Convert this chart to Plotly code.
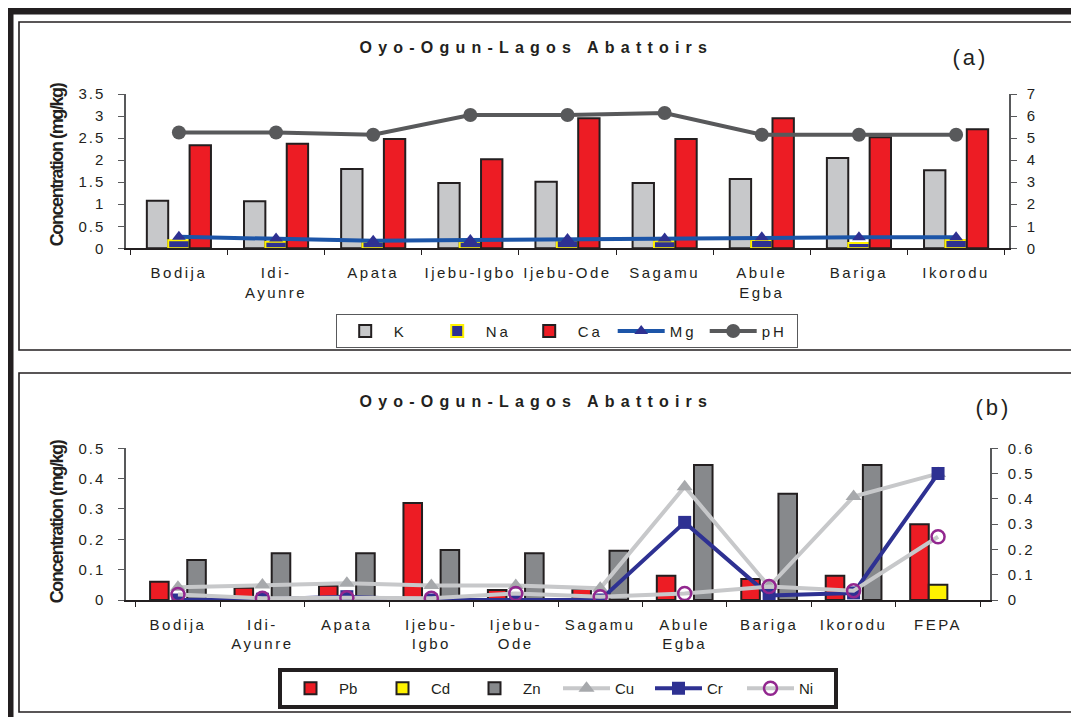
import plotly.graph_objects as go

# ---------------- data ----------------
sites_a = ["Bodija", "Idi-<br>Ayunre", "Apata", "Ijebu-Igbo", "Ijebu-Ode", "Sagamu",
           "Abule<br>Egba", "Bariga", "Ikorodu"]
K = [1.08, 1.07, 1.80, 1.48, 1.51, 1.48, 1.57, 2.05, 1.77]
Na = [0.18, 0.15, 0.15, 0.15, 0.18, 0.16, 0.19, 0.12, 0.19]
Ca = [2.34, 2.37, 2.48, 2.02, 2.95, 2.48, 2.95, 2.52, 2.70]
Mg = [0.26, 0.22, 0.17, 0.19, 0.21, 0.22, 0.25, 0.25, 0.25]
pH = [5.25, 5.25, 5.15, 6.05, 6.05, 6.14, 5.15, 5.15, 5.15]

sites_b = ["Bodija", "Idi-<br>Ayunre", "Apata", "Ijebu-<br>Igbo", "Ijebu-<br>Ode", "Sagamu",
           "Abule<br>Egba", "Bariga", "Ikorodu", "FEPA"]
Pb = [0.06, 0.04, 0.047, 0.32, 0.033, 0.036, 0.08, 0.069, 0.08, 0.25]
Cd = [None, None, None, None, None, None, None, None, None, 0.05]
Zn = [0.132, 0.154, 0.154, 0.165, 0.154, 0.162, 0.445, 0.35, 0.445, None]
Cu = [0.05, 0.059, 0.066, 0.057, 0.057, 0.046, 0.448, 0.053, 0.409, 0.5]
Cr = [0.0, 0.003, 0.013, 0.0, 0.0, 0.0, 0.307, 0.018, 0.028, 0.5]
Ni = [0.022, 0.007, 0.009, 0.007, 0.026, 0.013, 0.026, 0.053, 0.037, 0.25]

title_text = "Oyo-Ogun-Lagos Abattoirs"
ytitle = "Concentration (mg/kg)"

# ---------------- helpers ----------------
W, H = 1071, 717
def X(px):
    return px / W
def Y(py):
    return 1 - py / H

FONT = "Liberation Sans, Arial, Helvetica, sans-serif"
DARK = "#231f20"
OUT = "#231f20"

fig = go.Figure()

# ---- panel (a) ----
fig.add_trace(go.Bar(x=sites_a, y=K, name="K", xaxis="x", yaxis="y",
                     marker=dict(color="#c7c8ca", line=dict(color=OUT, width=2)), legend="legend"))
fig.add_trace(go.Bar(x=sites_a, y=Na, name="Na", xaxis="x", yaxis="y",
                     marker=dict(color="#2e3192", line=dict(color="#fff200", width=2)), legend="legend"))
fig.add_trace(go.Bar(x=sites_a, y=Ca, name="Ca", xaxis="x", yaxis="y",
                     marker=dict(color="#ed1c24", line=dict(color=OUT, width=2)), legend="legend"))
fig.add_trace(go.Scatter(x=sites_a, y=Mg, name="Mg", xaxis="x", yaxis="y", mode="lines+markers",
                         line=dict(color="#1c55a8", width=4),
                         marker=dict(symbol="triangle-up", size=12, color="#2e3192"), legend="legend"))
fig.add_trace(go.Scatter(x=sites_a, y=pH, name="pH", xaxis="x", yaxis="y2", mode="lines+markers",
                         line=dict(color="#58595b", width=4),
                         marker=dict(symbol="circle", size=14, color="#58595b"), legend="legend"))

# ---- panel (b) ----
fig.add_trace(go.Bar(x=sites_b, y=Pb, name="Pb", xaxis="x2", yaxis="y3",
                     marker=dict(color="#ed1c24", line=dict(color=OUT, width=2)), legend="legend2"))
fig.add_trace(go.Bar(x=sites_b, y=Cd, name="Cd", xaxis="x2", yaxis="y3",
                     marker=dict(color="#fff200", line=dict(color=OUT, width=2)), legend="legend2"))
fig.add_trace(go.Bar(x=sites_b, y=Zn, name="Zn", xaxis="x2", yaxis="y3",
                     marker=dict(color="#87898c", line=dict(color=OUT, width=2)), legend="legend2"))
fig.add_trace(go.Scatter(x=sites_b, y=Cu, name="Cu", xaxis="x2", yaxis="y4", mode="lines+markers",
                         line=dict(color="#c7c8ca", width=4),
                         marker=dict(symbol="triangle-up", size=14, color="#a7a9ac"), legend="legend2"))
fig.add_trace(go.Scatter(x=sites_b, y=Cr, name="Cr", xaxis="x2", yaxis="y4", mode="lines+markers",
                         line=dict(color="#2e3192", width=4),
                         marker=dict(symbol="square", size=13, color="#2e3192"), legend="legend2"))
fig.add_trace(go.Scatter(x=sites_b, y=Ni, name="Ni", xaxis="x2", yaxis="y4", mode="lines+markers",
                         line=dict(color="#c7c8ca", width=4),
                         marker=dict(symbol="circle-open", size=13, color="#92278f", line=dict(width=2.5)),
                         legend="legend2"))

tickfont = dict(family=FONT, size=15, color=DARK)
xcommon = dict(type="category", showline=True, linecolor=DARK, linewidth=1.5, ticks="outside",
               tickson="boundaries", ticklen=5, tickcolor=DARK, tickwidth=1.2, showgrid=False,
               zeroline=False, tickfont=tickfont, automargin=False, fixedrange=True)
ycommon = dict(showline=True, linecolor="#58595b", linewidth=1.5, ticks="outside", ticklen=6,
               tickcolor="#58595b", tickwidth=1.2, showgrid=False, zeroline=False,
               tickfont=dict(family=FONT, size=15, color=DARK), automargin=False, fixedrange=True)

fig.update_layout(
    width=W, height=H, autosize=False,
    margin=dict(l=0, r=0, t=0, b=0),
    paper_bgcolor="white", plot_bgcolor="rgba(0,0,0,0)",
    barmode="group", bargap=0.34, bargroupgap=0,
    font=dict(family=FONT, color=DARK),
    xaxis=dict(xcommon, domain=[X(126), X(1009)], anchor="y", ticklabelstandoff=10),
    yaxis=dict(ycommon, domain=[Y(248.3), Y(94)], range=[0, 3.5], dtick=0.5, anchor="x",
               ticklabelstandoff=10),
    yaxis2=dict(ycommon, overlaying="y", side="right", range=[0, 7], dtick=1, anchor="x",
                ticklabelstandoff=7),
    xaxis2=dict(xcommon, domain=[X(126), X(990)], anchor="y3", ticklabelstandoff=10),
    yaxis3=dict(ycommon, domain=[Y(600), Y(448.3)], range=[0, 0.5], dtick=0.1, anchor="x2",
                ticklabelstandoff=10),
    yaxis4=dict(ycommon, overlaying="y3", side="right", range=[0, 0.6], dtick=0.1, anchor="x2",
                ticklabelstandoff=7),
    legend=dict(orientation="h", x=X(567), y=Y(331), xanchor="center", yanchor="middle",
                bordercolor="#58595b", borderwidth=1.2, bgcolor="white",
                font=dict(family=FONT, size=15, color=DARK), itemwidth=47, entrywidth=30,
                traceorder="normal"),
    legend2=dict(orientation="h", x=X(558), y=Y(688.5), xanchor="center", yanchor="middle",
                 bordercolor=DARK, borderwidth=4, bgcolor="white",
                 font=dict(family=FONT, size=15, color=DARK), itemwidth=47, entrywidth=30,
                 traceorder="normal"),
    showlegend=True,
)

# frames
shapes = [
    dict(type="rect", xref="paper", yref="paper", x0=X(8), x1=X(13.5), y0=Y(717), y1=Y(8),
         fillcolor=DARK, line=dict(width=0), layer="above"),
    dict(type="rect", xref="paper", yref="paper", x0=X(8), x1=X(1075), y0=Y(14.5), y1=Y(8),
         fillcolor=DARK, line=dict(width=0), layer="above"),
    dict(type="rect", xref="paper", yref="paper", x0=X(19), x1=X(1080), y0=Y(350), y1=Y(22),
         fillcolor="rgba(0,0,0,0)", line=dict(color=DARK, width=1.6), layer="below"),
    dict(type="rect", xref="paper", yref="paper", x0=X(19), x1=X(1080), y0=Y(712), y1=Y(373),
         fillcolor="rgba(0,0,0,0)", line=dict(color=DARK, width=1.6), layer="below"),
]
fig.update_layout(shapes=shapes)

ann = [
    dict(text="<b>" + title_text + "</b>", x=X(536), y=Y(47), xref="paper", yref="paper",
         showarrow=False, font=dict(family=FONT, size=16, color=DARK), xanchor="center", yanchor="middle"),
    dict(text="<b>" + title_text + "</b>", x=X(536), y=Y(401), xref="paper", yref="paper",
         showarrow=False, font=dict(family=FONT, size=16, color=DARK), xanchor="center", yanchor="middle"),
    dict(text="(a)", x=X(970), y=Y(58), xref="paper", yref="paper", showarrow=False,
         font=dict(family=FONT, size=22, color=DARK), xanchor="center", yanchor="middle"),
    dict(text="(b)", x=X(993), y=Y(407), xref="paper", yref="paper", showarrow=False,
         font=dict(family=FONT, size=22, color=DARK), xanchor="center", yanchor="middle"),
    dict(text="<b>" + ytitle + "</b>", x=X(57), y=Y(165), xref="paper", yref="paper",
         showarrow=False, textangle=-90, font=dict(family=FONT, size=18, color=DARK),
         xanchor="center", yanchor="middle"),
    dict(text="<b>" + ytitle + "</b>", x=X(57), y=Y(522), xref="paper", yref="paper",
         showarrow=False, textangle=-90, font=dict(family=FONT, size=18, color=DARK),
         xanchor="center", yanchor="middle"),
]
fig.update_layout(annotations=ann)

post = """
document.body.style.margin = '0';
document.body.style.padding = '0';
document.body.style.overflow = 'hidden';
var gd = document.getElementById('{plot_id}');
function spacing(){
  gd.querySelectorAll('.xtick text, .x2tick text').forEach(function(t){t.style.letterSpacing='2.5px';});
  gd.querySelectorAll('.ytick text, .y2tick text, .y3tick text, .y4tick text').forEach(function(t){t.style.letterSpacing='2px';});
  gd.querySelectorAll('.legendtext').forEach(function(t){t.style.letterSpacing='3px';});
  var a = gd.querySelectorAll('.annotation-text');
  a.forEach(function(t, i){
    if (i < 2) t.style.letterSpacing = '6.2px';
    else if (i < 4) t.style.letterSpacing = '3px';
    else t.style.letterSpacing = '-1.4px';
  });
}
spacing();
gd.on('plotly_afterplot', spacing);
"""

fig.write_html("out.html", post_script=post, config={"displayModeBar": False})
